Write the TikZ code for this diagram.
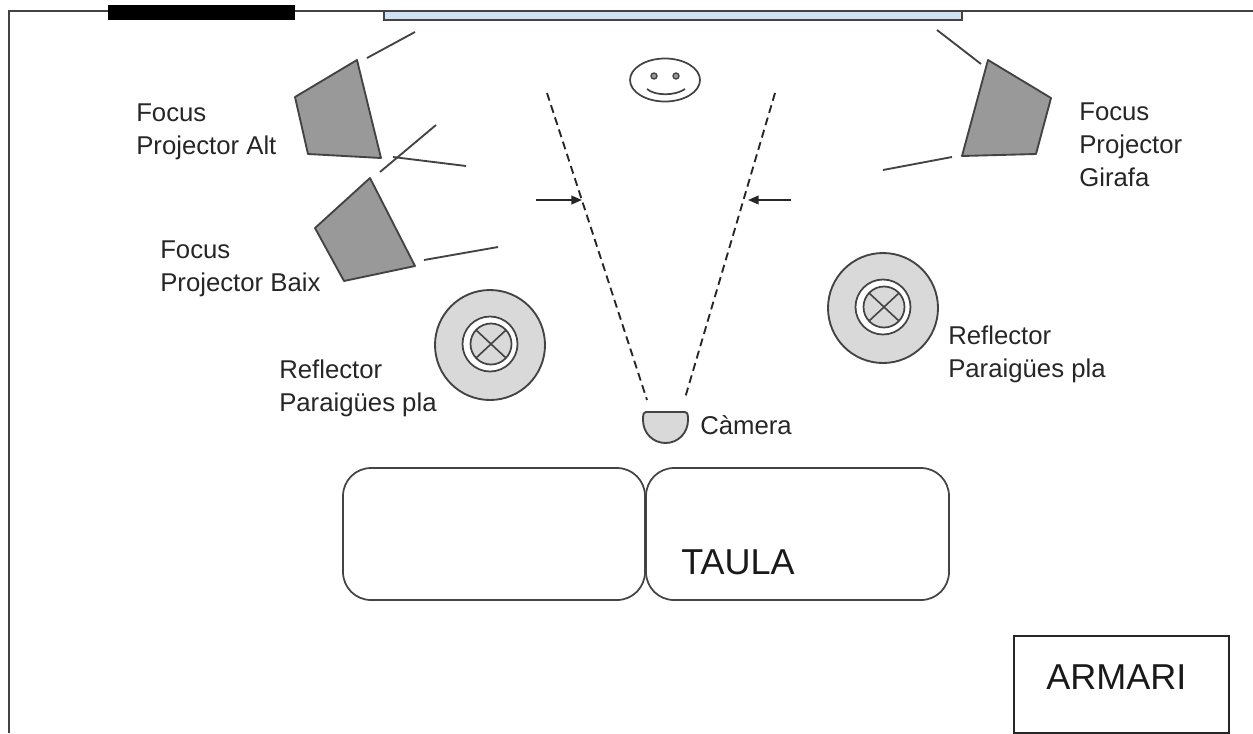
\documentclass[tikz,border=0pt]{standalone}
\usepackage{fontspec}
\setmainfont{Liberation Sans}
\usetikzlibrary{arrows.meta}
\definecolor{ln}{HTML}{434343}
\definecolor{winblue}{HTML}{CFE2F3}
\tikzset{x=0.75pt,y=-0.75pt,
 wall/.style={draw=ln,line width=1.6pt},
 thin line/.style={draw=ln,line width=1.4pt},
 proj/.style={draw=ln,line width=1.4pt,fill=black!40,line join=round},
 refl/.style={draw=ln,line width=1.4pt,fill=black!15},
 lab/.style={anchor=base west,inner sep=0pt,text=black!85,font=\fontsize{19.3pt}{24.7pt}\selectfont,align=left},
 big/.style={anchor=base west,inner sep=0pt,text=black!90,font=\fontsize{27pt}{32pt}\selectfont},
 dash line/.style={draw=black!85,line width=1.4pt,dash pattern=on 6pt off 3.6pt},
 arr/.style={draw=black!85,line width=1.3pt,-{Triangle[length=8pt,width=6.5pt]}}}
\begin{document}
\begin{tikzpicture}
\useasboundingbox (0,0) rectangle (1253,733);
% walls
\coordinate (wa) at (9,733); \coordinate (wb) at (9,11); \coordinate (wc) at (1253,11);
\draw[wall] (wa) -- (wb) -- (wc);
\fill[black] (108,5) rectangle (295,20);
\draw[wall,fill=winblue] (384,11) rectangle (962,20);
% projector alt
\draw[proj] (357,60) -- (295,97) -- (308,154) -- (381,158) -- cycle;
\draw[thin line] (367,58) -- (415,32);
\draw[thin line] (380,172) -- (436,125);
\draw[thin line] (393,157) -- (466,166);
% projector baix
\draw[proj] (370,178) -- (315,228) -- (344,281) -- (415,266) -- cycle;
\draw[thin line] (424,260) -- (498,247);
% projector girafa
\draw[proj] (988,60) -- (1051,98) -- (1036,154) -- (962,156) -- cycle;
\draw[thin line] (937,30) -- (981,64);
\draw[thin line] (883,170) -- (952,157);
% face
\draw[ln,line width=1.3pt] (665,80) ellipse (35 and 21.5);
\draw[ln,line width=1pt,fill=black!40] (654,76) circle (3) (676,76) circle (3);
\draw[ln,line width=1.3pt] (647,89) .. controls (655,96) and (675,96) .. (685,89);
% view cone
\coordinate (cl1) at (547,93); \coordinate (cl2) at (647,400);
\coordinate (cr1) at (775,93); \coordinate (cr2) at (685,398);
\draw[dash line] (cl1) -- (cl2);
\draw[dash line] (cr1) -- (cr2);
\coordinate (al1) at (536,200); \coordinate (al2) at (582,200);
\coordinate (ar1) at (791,200); \coordinate (ar2) at (748,200);
\draw[arr] (al1) -- (al2);
\draw[arr] (ar1) -- (ar2);
% reflectors
\foreach \cx/\cy in {490/345,883/308}{
 \draw[refl] (\cx,\cy) circle (55);
 \draw[draw=ln,line width=1.3pt,fill=white] (\cx,\cy-1) circle (27.5);
 \draw[draw=ln,line width=1.3pt,fill=black!15] (\cx+1,\cy-1) circle (20.5);
 \draw[ln,line width=1.2pt] (\cx-14,\cy-15) -- (\cx+16,\cy+13) (\cx-14,\cy+13) -- (\cx+16,\cy-15);
}
% camera
\draw[refl] (646,412) -- (685,412) .. controls (687,412) and (688,413) .. (688,420) .. controls (688,433) and (678,443) .. (665.5,443) .. controls (653,443) and (643,433) .. (643,420) .. controls (643,413) and (644,412) .. (646,412) -- cycle;
% tables
\draw[draw=ln,line width=1.3pt,rounded corners=21pt] (343,468) rectangle (645,600);
\draw[draw=ln,line width=1.3pt,rounded corners=21pt] (646,468) rectangle (949,600);
\draw[draw=black!85,line width=1.3pt] (1014,636) rectangle (1229,733);
% labels
\node[lab] (l1) at (136,154) {Focus\\Projector Alt};
\node[lab] (l2) at (160,291) {Focus\\Projector Baix};
\node[lab] (l3) at (1079,186) {Focus\\Projector\\Girafa};
\node[lab] (l4) at (279,411) {Reflector\\Paraigües pla};
\node[lab] (l5) at (948,377) {Reflector\\Paraigües pla};
\node[lab] (l6) at (700,434) {Càmera};
\node[big] (l7) at (681,574) {TAULA};
\node[big] (l8) at (1046,689) {ARMARI};
\end{tikzpicture}
\end{document}
